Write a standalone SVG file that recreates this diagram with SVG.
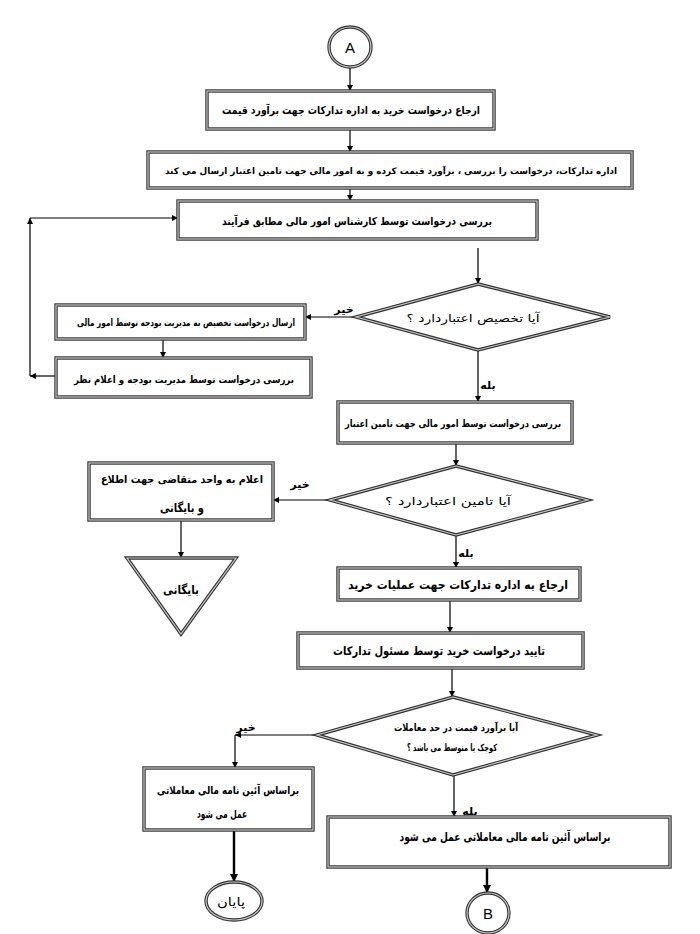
<svg xmlns="http://www.w3.org/2000/svg" width="700" height="934" viewBox="0 0 700 934">
<defs>
<marker id="ah" viewBox="0 0 10 10" refX="10" refY="5" markerWidth="6" markerHeight="6" markerUnits="userSpaceOnUse" orient="auto"><path d="M0,0 L10,5 L0,10 z" fill="#000"/></marker>
<marker id="ahb" viewBox="0 0 10 10" refX="10" refY="5" markerWidth="8" markerHeight="8" markerUnits="userSpaceOnUse" orient="auto"><path d="M0,0 L10,5 L0,10 z" fill="#000"/></marker>
</defs>
<style>
.o{fill:#fff;stroke:#333;stroke-width:3.4}
.i{fill:none;stroke:#c8c8c8;stroke-width:1.2}
.t{font-family:"DejaVu Sans",sans-serif;font-weight:bold;font-size:11px;fill:#000;text-anchor:middle;direction:rtl;unicode-bidi:embed}
.r{font-family:"DejaVu Sans",sans-serif;font-size:11px;fill:#000;text-anchor:middle;direction:rtl;unicode-bidi:embed}
.l{font-family:"Liberation Sans",Arial,sans-serif;font-size:15px;fill:#000;text-anchor:middle}
.c{fill:none;stroke:#000;stroke-width:1.2}
.cb{fill:none;stroke:#000;stroke-width:2.4}
</style>
<rect width="700" height="934" fill="#fff"/>
<g id="connectors">
<path class="c" d="M350,67 V91" marker-end="url(#ah)"/>
<path class="c" d="M350,129 V152" marker-end="url(#ah)"/>
<path class="c" d="M350,188 V201" marker-end="url(#ah)"/>
<path class="c" d="M478,248 V284" marker-end="url(#ah)"/>
<path class="c" d="M356,317 H305" marker-end="url(#ah)"/>
<path class="c" d="M163,339 V358" marker-end="url(#ah)"/>
<path class="c" d="M55,376 H30" marker-end="url(#ah)"/>
<path class="c" d="M30,376 V218" marker-end="url(#ah)"/>
<path class="c" d="M30,218 H178" marker-end="url(#ah)"/>
<path class="c" d="M478,350 V402" marker-end="url(#ah)"/>
<path class="c" d="M456,443 V466" marker-end="url(#ah)"/>
<path class="c" d="M330,500 H273" marker-end="url(#ah)"/>
<path class="c" d="M181,520 V558" marker-end="url(#ah)"/>
<path class="c" d="M456,535 V568" marker-end="url(#ah)"/>
<path class="c" d="M450,600 V633" marker-end="url(#ah)"/>
<path class="c" d="M452,668 V697" marker-end="url(#ah)"/>
<path class="c" d="M317,735 H235" marker-end="url(#ah)"/>
<path class="c" d="M235,735 V768" marker-end="url(#ah)"/>
<path class="c" d="M454,775 V817" marker-end="url(#ah)"/>
<path class="cb" d="M487,867 V893" marker-end="url(#ahb)"/>
<path class="cb" d="M234,830 V882" marker-end="url(#ahb)"/>
<text class="t" x="344" y="313">خیر</text>
<text class="t" x="488" y="389">بله</text>
<text class="t" x="300" y="488">خیر</text>
<text class="t" x="466" y="557">بله</text>
<text class="t" x="246" y="731">خیر</text>
<text class="t" x="470" y="815">بله</text>
</g>
<g id="startA">
<ellipse class="o" cx="350" cy="47" rx="21" ry="20"/><ellipse class="i" cx="350" cy="47" rx="21" ry="20"/>
<text class="l" x="350" y="53">A</text>
</g>
<g id="box1">
<rect class="o" x="207" y="91" width="287" height="38"/><rect class="i" x="207" y="91" width="287" height="38"/>
<text class="t" x="351" y="114" textLength="258" lengthAdjust="spacingAndGlyphs">ارجاع درخواست خرید به اداره تدارکات جهت برآورد قیمت</text>
</g>
<g id="box2">
<rect class="o" x="148" y="152" width="484" height="36"/><rect class="i" x="148" y="152" width="484" height="36"/>
<text class="t" x="391" y="174" style="font-size:9px" textLength="452" lengthAdjust="spacingAndGlyphs">اداره تدارکات، درخواست را بررسی ، برآورد قیمت کرده و به امور مالی جهت تامین اعتبار ارسال می کند</text>
</g>
<g id="box3">
<rect class="o" x="178" y="201" width="359" height="38"/><rect class="i" x="178" y="201" width="359" height="38"/>
<text class="t" x="357" y="225" textLength="270" lengthAdjust="spacingAndGlyphs">بررسی درخواست توسط کارشناس امور مالی مطابق فرآیند</text>
</g>
<g id="decision1">
<polygon class="o" points="478,284 610,317 478,350 356,317"/><polygon class="i" points="478,284 610,317 478,350 356,317"/>
<text class="r" x="473" y="322" textLength="133" lengthAdjust="spacingAndGlyphs">آیا تخصیص  اعتباردارد ؟</text>
</g>
<g id="box4">
<rect class="o" x="56" y="305" width="249" height="34"/><rect class="i" x="56" y="305" width="249" height="34"/>
<text class="t" x="186" y="326" style="font-size:10px" textLength="218" lengthAdjust="spacingAndGlyphs">ارسال درخواست تخصیص به مدیریت بودجه توسط امور مالی</text>
</g>
<g id="box5">
<rect class="o" x="56" y="358" width="255" height="39"/><rect class="i" x="56" y="358" width="255" height="39"/>
<text class="t" x="184" y="383" style="font-size:10px" textLength="220" lengthAdjust="spacingAndGlyphs">بررسی درخواست توسط مدیریت بودجه و اعلام نظر</text>
</g>
<g id="box6">
<rect class="o" x="338" y="402" width="234" height="41"/><rect class="i" x="338" y="402" width="234" height="41"/>
<text class="t" x="453" y="427" style="font-size:10px" textLength="216" lengthAdjust="spacingAndGlyphs">بررسی درخواست توسط  امور مالی جهت تامین اعتبار</text>
</g>
<g id="decision2">
<polygon class="o" points="456,466 588,500 456,535 330,500"/><polygon class="i" points="456,466 588,500 456,535 330,500"/>
<text class="r" x="448" y="505" textLength="126" lengthAdjust="spacingAndGlyphs">آیا تامین  اعتباردارد ؟</text>
</g>
<g id="box7">
<rect class="o" x="89" y="463" width="184" height="57"/><rect class="i" x="89" y="463" width="184" height="57"/>
<text class="t" x="182" y="483" style="font-size:10.5px" textLength="162" lengthAdjust="spacingAndGlyphs">اعلام به واحد متقاضی جهت اطلاع</text>
<text class="t" x="182" y="512" style="font-size:12px" textLength="44" lengthAdjust="spacingAndGlyphs">و بایگانی</text>
</g>
<g id="archive">
<polygon class="o" points="127,558 236,558 181,634"/><polygon class="i" points="127,558 236,558 181,634"/>
<text class="t" x="181" y="594" style="font-size:12px" textLength="36" lengthAdjust="spacingAndGlyphs">بایگانی</text>
</g>
<g id="box8">
<rect class="o" x="338" y="568" width="242" height="32"/><rect class="i" x="338" y="568" width="242" height="32"/>
<text class="t" x="458" y="589" style="font-size:12px" textLength="220" lengthAdjust="spacingAndGlyphs">ارجاع به اداره تدارکات جهت عملیات خرید</text>
</g>
<g id="box9">
<rect class="o" x="298" y="633" width="285" height="35"/><rect class="i" x="298" y="633" width="285" height="35"/>
<text class="t" x="439" y="655" style="font-size:12px" textLength="212" lengthAdjust="spacingAndGlyphs">تایید درخواست خرید توسط مسئول  تدارکات</text>
</g>
<g id="decision3">
<polygon class="o" points="453,697 597,735 453,775 317,735"/><polygon class="i" points="453,697 597,735 453,775 317,735"/>
<text class="t" x="456" y="731" style="font-size:10px" textLength="124" lengthAdjust="spacingAndGlyphs">آیا برآورد قیمت در حد معاملات</text>
<text class="t" x="452" y="751" style="font-size:10px" textLength="90" lengthAdjust="spacingAndGlyphs">کوچک یا متوسط می باشد ؟</text>
</g>
<g id="box10">
<rect class="o" x="144" y="768" width="169" height="62"/><rect class="i" x="144" y="768" width="169" height="62"/>
<text class="t" x="228" y="794" textLength="142" lengthAdjust="spacingAndGlyphs">براساس آئین نامه مالی معاملاتی</text>
<text class="t" x="222" y="818" textLength="50" lengthAdjust="spacingAndGlyphs">عمل می شود</text>
</g>
<g id="end">
<ellipse class="o" cx="234" cy="901" rx="28" ry="19"/><ellipse class="i" cx="234" cy="901" rx="28" ry="19"/>
<text class="r" x="231" y="906" style="font-size:12px" textLength="28" lengthAdjust="spacingAndGlyphs">پایان</text>
</g>
<g id="box11">
<rect class="o" x="328" y="817" width="342" height="50"/><rect class="i" x="328" y="817" width="342" height="50"/>
<text class="t" x="505" y="841" style="font-size:12px" textLength="211" lengthAdjust="spacingAndGlyphs">براساس آئین نامه مالی معاملاتی عمل می شود</text>
</g>
<g id="endB">
<ellipse class="o" cx="488" cy="913" rx="21" ry="20"/><ellipse class="i" cx="488" cy="913" rx="21" ry="20"/>
<text class="l" x="488" y="919">B</text>
</g>
</svg>
